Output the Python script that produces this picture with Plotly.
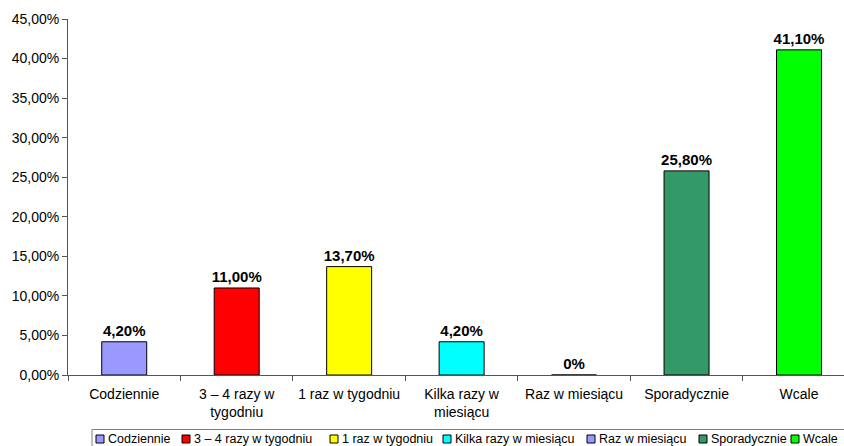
import plotly.graph_objects as go

categories = ["Codziennie", "3 – 4 razy w tygodniu", "1 raz w tygodniu",
              "Kilka razy w miesiącu", "Raz w miesiącu", "Sporadycznie", "Wcale"]
tick_labels = ["Codziennie", "3 – 4 razy w<br>tygodniu", "1 raz w tygodniu",
               "Kilka razy w<br>miesiącu", "Raz w miesiącu", "Sporadycznie", "Wcale"]
values = [4.2, 11.0, 13.7, 4.2, 0.0, 25.8, 41.1]
colors = ["#9999FF", "#FF0000", "#FFFF00", "#00FFFF", "#9999FF", "#339966", "#00FF00"]
y_ticks = [0, 5, 10, 15, 20, 25, 30, 35, 40, 45]
y_tick_labels = ["0,00%", "5,00%", "10,00%", "15,00%", "20,00%", "25,00%",
                 "30,00%", "35,00%", "40,00%", "45,00%"]

# layout (pixel positions of legend squares)
legend_sq_x = [96, 182, 330, 443, 587, 699, 791]

W, H = 844, 446
L, R, T, B = 68, 0, 19, 71
PW = W - L - R
PH = H - T - B


def fmt(v):
    if v == 0:
        return "0%"
    return f"{v:.2f}".replace(".", ",") + "%"


def px_x(p):
    return (p - L) / PW


def px_y(p):
    return (H - B - p) / PH


FONT = "Liberation Sans, Arial, sans-serif"

fig = go.Figure()
for cat, lab, v, c in zip(categories, tick_labels, values, colors):
    fig.add_trace(go.Bar(
        x=[lab], y=[v], name=cat, marker=dict(color=c, line=dict(color="#000000", width=1)),
        width=0.4, text=[fmt(v)], textposition="outside", cliponaxis=False,
        constraintext="none",
        textfont=dict(family=FONT, size=15, color="#000000", weight="bold"),
        showlegend=False,
    ))

shapes = []
annotations = []
# legend box
shapes.append(dict(type="rect", xref="paper", yref="paper",
                   x0=px_x(92), x1=px_x(860), y0=px_y(460), y1=px_y(429.5),
                   line=dict(color="#808080", width=1), fillcolor="rgba(0,0,0,0)"))
for cat, c, sx in zip(categories, colors, legend_sq_x):
    shapes.append(dict(type="rect", xref="paper", yref="paper",
                       x0=px_x(sx), x1=px_x(sx + 8), y0=px_y(443), y1=px_y(435),
                       line=dict(color="#000000", width=1), fillcolor=c))
    annotations.append(dict(text=cat, xref="paper", yref="paper", x=px_x(sx + 10), y=px_y(438.5),
                            xanchor="left", yanchor="middle", showarrow=False,
                            font=dict(family=FONT, size=12.5, color="#000000")))

fig.update_layout(
    width=W, height=H, margin=dict(l=L, r=R, t=T, b=B),
    paper_bgcolor="#FFFFFF", plot_bgcolor="#FFFFFF",
    barmode="overlay",
    font=dict(family=FONT, size=14, color="#000000"),
    xaxis=dict(range=[-0.5, 6.4], showgrid=False, showline=True, linecolor="#555555",
               ticks="outside", tickson="boundaries", ticklen=5, tickcolor="#555555",
               ticklabelstandoff=6,
               tickfont=dict(family=FONT, size=14, color="#000000"), fixedrange=True),
    yaxis=dict(range=[0, 45], tickvals=y_ticks, ticktext=y_tick_labels,
               showgrid=False, showline=True, linecolor="#555555", ticks="outside", ticklen=5,
               tickcolor="#555555", zeroline=False,
               tickfont=dict(family=FONT, size=14, color="#000000"), fixedrange=True),
    shapes=shapes, annotations=annotations, showlegend=False,
)

fig.write_html("out.html")
